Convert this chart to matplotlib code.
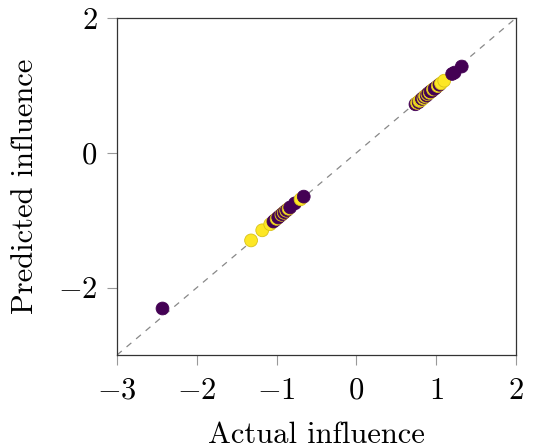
import matplotlib
matplotlib.use("Agg")
import matplotlib.pyplot as plt
import numpy as np

plt.rcParams['font.family'] = 'serif'
plt.rcParams['font.serif'] = ['cmr10', 'DejaVu Serif']
plt.rcParams['mathtext.fontset'] = 'cm'
plt.rcParams['axes.formatter.use_mathtext'] = True

actual = [0.74, 0.76, 0.78, 0.79, 0.81, 0.82, 0.84, 0.85, 0.86, 0.88, 0.89, 0.90, 0.92, 0.93,
          0.95, 0.96, 0.98, 1.00, 1.02, 1.04, 1.06, 1.10, 1.20, 1.23, 1.32,
          -1.32, -1.18, -1.08, -1.04, -1.02, -1.00, -0.98, -0.96, -0.94, -0.93, -0.91, -0.90,
          -0.88, -0.87, -0.85, -0.83, -0.77, -0.70, -0.66,
          -2.43]
predicted = [0.72, 0.74, 0.75, 0.77, 0.78, 0.80, 0.81, 0.83, 0.84, 0.85, 0.87, 0.88, 0.89, 0.91,
             0.92, 0.94, 0.95, 0.97, 0.99, 1.01, 1.03, 1.07, 1.17, 1.19, 1.28,
             -1.30, -1.15, -1.06, -1.02, -1.00, -0.98, -0.96, -0.94, -0.92, -0.91, -0.89, -0.88,
             -0.86, -0.85, -0.83, -0.81, -0.75, -0.69, -0.65,
             -2.31]
group = [0, 1, 0, 1, 1, 0, 1, 0, 1, 0, 1, 0, 1, 0,
         0, 1, 0, 0, 1, 0, 1, 1, 0, 0, 0,
         1, 1, 1, 0, 0, 1, 0, 0, 1, 0, 1, 0,
         1, 0, 1, 0, 0, 1, 0,
         0]
xticks = [-3, -2, -1, 0, 1, 2]
yticks = [-2, 0, 2]
lims = [-3, 2]

fig = plt.figure(figsize=(5.35, 4.48), dpi=100)
ax = fig.add_axes([0.2187, 0.2076, 0.7458, 0.7522])

ax.plot(lims, lims, linestyle=(0, (5, 5)), color='#888888', linewidth=0.9, zorder=1)

g = np.array(group)
fc = np.where(g[:, None] == 1, np.array([[0xfd/255, 0xe7/255, 0x25/255, 1]]),
              np.array([[0x44/255, 0x01/255, 0x54/255, 1]]))
ec = np.where(g[:, None] == 1, np.array([[0xd8/255, 0xc2/255, 0x1a/255, 1]]),
              np.array([[0x44/255, 0x01/255, 0x54/255, 1]]))
ax.scatter(actual, predicted, s=85, c=fc, edgecolors=ec, linewidths=0.6, zorder=2)

ax.set_xlim(lims)
ax.set_ylim(lims)
ax.set_xticks(xticks)
ax.set_yticks(yticks)
ax.tick_params(direction='out', length=7, width=0.8, color='#999999', labelsize=22)
ax.tick_params(axis='x', pad=9)
ax.tick_params(axis='y', pad=7)
for s in ax.spines.values():
    s.set_color('#333333')
    s.set_linewidth(0.9)
ax.set_xlabel('Actual influence', fontsize=22, labelpad=12)
ax.set_ylabel('Predicted influence', fontsize=22, labelpad=14)

fig.savefig('out.png', dpi=100)
